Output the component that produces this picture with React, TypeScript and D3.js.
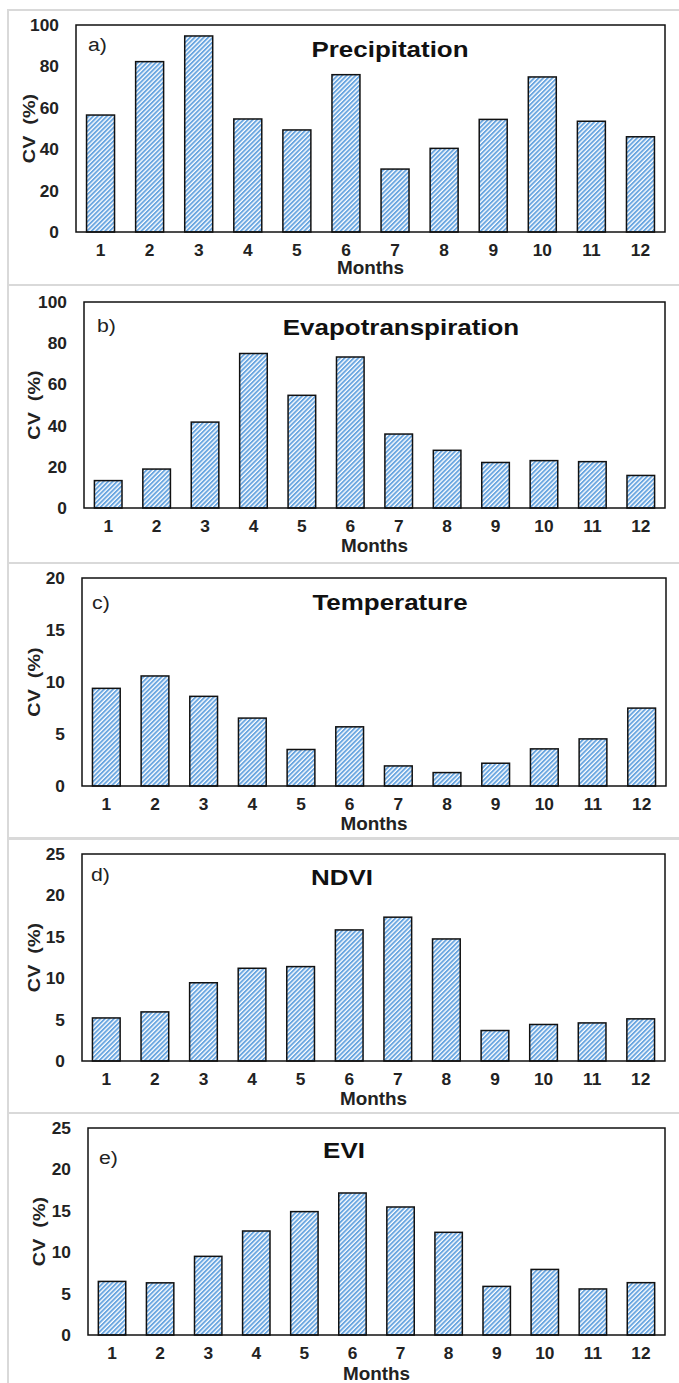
import React from 'react';
import * as d3 from 'd3';

// monthly coefficient of variation (%)
const months = ['1', '2', '3', '4', '5', '6', '7', '8', '9', '10', '11', '12'];
const precipitation = [56.5, 82.3, 94.7, 54.6, 49.3, 76, 30.4, 40.4, 54.4, 74.9, 53.5, 46];
const evapotranspiration = [13.3, 18.9, 41.7, 75, 54.7, 73.3, 35.9, 28, 22.1, 23, 22.5, 15.8];
const temperature = [9.39, 10.58, 8.62, 6.53, 3.51, 5.69, 1.93, 1.29, 2.19, 3.57, 4.53, 7.49];
const ndvi = [5.2, 5.93, 9.45, 11.2, 11.4, 15.83, 17.37, 14.74, 3.68, 4.41, 4.6, 5.09];
const evi = [6.47, 6.3, 9.5, 12.56, 14.9, 17.15, 15.46, 12.4, 5.87, 7.92, 5.56, 6.32];

const ticks100 = [0, 20, 40, 60, 80, 100];
const ticks20 = [0, 5, 10, 15, 20];
const ticks25 = [0, 5, 10, 15, 20, 25];

const titles = ['Precipitation', 'Evapotranspiration', 'Temperature', 'NDVI', 'EVI'];
const letters = ['a)', 'b)', 'c)', 'd)', 'e)'];

// layout of each panel (pixels)
const panels = [
  { values: precipitation, ticks: ticks100, box: [10, 285], plot: [76, 665, 25, 232], titleX: 390, titleY: 57, letterX: 88, letterY: 51, cvX: 29, monthsDy: 42 },
  { values: evapotranspiration, ticks: ticks100, box: [285, 563], plot: [84, 665, 302, 508], titleX: 401, titleY: 335, letterX: 97, letterY: 332, cvX: 34, monthsDy: 44 },
  { values: temperature, ticks: ticks20, box: [563, 838], plot: [82, 666, 578, 786], titleX: 390, titleY: 610, letterX: 92, letterY: 609, cvX: 34, monthsDy: 44 },
  { values: ndvi, ticks: ticks25, box: [839, 1113], plot: [82, 665, 854, 1061], titleX: 342, titleY: 885, letterX: 91, letterY: 881, cvX: 34, monthsDy: 44 },
  { values: evi, ticks: ticks25, box: [1113, 1395], plot: [88, 665, 1128, 1335], titleX: 344, titleY: 1158, letterX: 99, letterY: 1164, cvX: 39, monthsDy: 45 },
];

const FONT = 'Arial, "Liberation Sans", sans-serif';
const BLUE = '#6aa6e0';

const Panel = ({ p, i }) => {
  const [left, right, top, bottom] = p.plot;
  const x = d3.scaleBand().domain(months).range([left, right]).paddingInner(0.43).paddingOuter(0.215);
  const y = d3.scaleLinear().domain([0, d3.max(p.ticks)]).range([bottom, top]);
  const midX = (left + right) / 2;
  const midY = (top + bottom) / 2;

  return (
    <g>
      <rect x={8} y={p.box[0]} width={690} height={p.box[1] - p.box[0]} fill="#fff" stroke="#d9d9d9" strokeWidth={2} />
      {p.values.map((v, k) => (
        <rect key={k} x={x(months[k])} y={y(v)} width={x.bandwidth()} height={y(0) - y(v)}
          fill="url(#hatch)" stroke="#111" strokeWidth={1.5} />
      ))}
      <rect x={left} y={top} width={right - left} height={bottom - top} fill="none" stroke="#111" strokeWidth={1.5} />
      {p.ticks.map(t => (
        <text key={t} transform={`translate(${left - 17},${y(t) + 6}) scale(1.05,1)`} textAnchor="end"
          fontFamily={FONT} fontWeight="bold" fontSize={16.5} fill="#222">{t}</text>
      ))}
      {months.map(m => (
        <text key={m} transform={`translate(${x(m) + x.bandwidth() / 2},${bottom + 24}) scale(1.05,1)`} textAnchor="middle"
          fontFamily={FONT} fontWeight="bold" fontSize={16.5} fill="#222">{m}</text>
      ))}
      <text transform={`translate(${midX},${bottom + p.monthsDy}) scale(1.08,1)`} textAnchor="middle"
        fontFamily={FONT} fontWeight="bold" fontSize={17.5} fill="#222">Months</text>
      <text transform={`translate(${p.cvX + 6},${midY}) rotate(-90) scale(1.2,1)`} textAnchor="middle"
        fontFamily={FONT} fontWeight="bold" fontSize={16.5} fill="#222" style={{ whiteSpace: 'pre' }}>{'CV  (%)'}</text>
      <text transform={`translate(${p.letterX},${p.letterY}) scale(1.12,1)`}
        fontFamily={FONT} fontSize={19} fill="#222">{letters[i]}</text>
      <text transform={`translate(${p.titleX},${p.titleY}) scale(1.18,1)`} textAnchor="middle"
        fontFamily={FONT} fontWeight="bold" fontSize={22} fill="#111">{titles[i]}</text>
    </g>
  );
};

export default function App() {
  return (
    <div style={{ position: 'absolute', left: 0, top: 0 }}>
      <svg width={679} height={1383} style={{ display: 'block', background: '#fff' }}>
        <defs>
          <pattern id="hatch" patternUnits="userSpaceOnUse" width={3.2} height={3.2} patternTransform="rotate(45)">
            <rect width={3.2} height={3.2} fill="#fff" />
            <rect width={1.9} height={3.2} fill={BLUE} />
          </pattern>
        </defs>
        {panels.map((p, i) => <Panel key={i} p={p} i={i} />)}
      </svg>
    </div>
  );
}
